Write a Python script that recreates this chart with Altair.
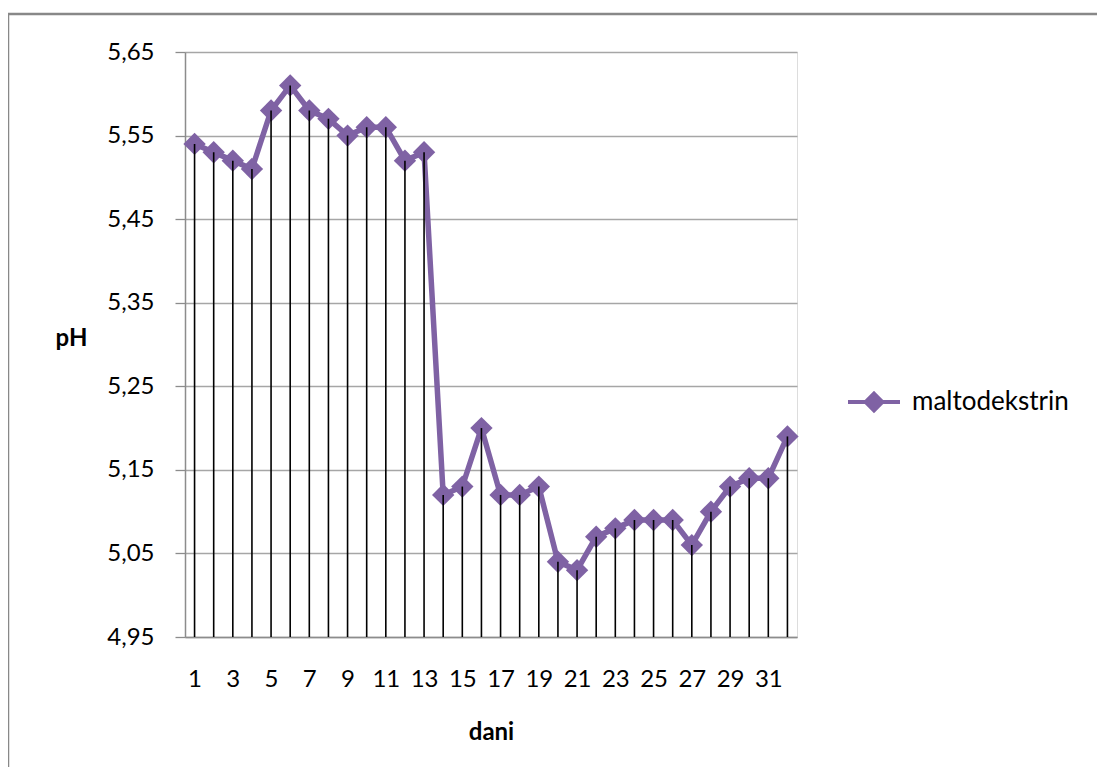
import altair as alt
import pandas as pd

days = list(range(1, 33))
ph = [5.54, 5.53, 5.52, 5.51, 5.58, 5.61, 5.58, 5.57, 5.55, 5.56, 5.56, 5.52, 5.53,
      5.12, 5.13, 5.20, 5.12, 5.12, 5.13, 5.04, 5.03, 5.07, 5.08, 5.09, 5.09, 5.09,
      5.06, 5.10, 5.13, 5.14, 5.14, 5.19]
series = ["maltodekstrin"] * len(days)
x_labels = list(range(1, 32, 2))
y_ticks = [4.95, 5.05, 5.15, 5.25, 5.35, 5.45, 5.55, 5.65]

df = pd.DataFrame({"dan": days, "pH": ph, "serija": series})
PURPLE = "#7f62a4"
FONT = "Lato"
W, H = 612, 585

xs = alt.Scale(domain=[0.5, 32.5], nice=False, zero=False)
ys = alt.Scale(domain=[4.95, 5.65], nice=False, zero=False)

x_axis = alt.Axis(values=x_labels, grid=False, ticks=False, labelPadding=30,
                  labelFont=FONT, labelFontSize=24, labelColor="#000",
                  domainColor="#8c8c8c", domainWidth=1.5,
                  title="dani", titleFont=FONT, titleFontSize=24, titleFontWeight="bold",
                  titleColor="#000", titlePadding=29, labelFlush=False)
y_axis = alt.Axis(values=y_ticks, grid=True, gridColor="#a6a6a6", gridWidth=1.3,
                  tickSize=10, tickColor="#8c8c8c", tickWidth=1.3,
                  domainColor="#8c8c8c", domainWidth=1.5,
                  labelExpr="replace(format(datum.value, '.2f'), '.', ',')",
                  labelFont=FONT, labelFontSize=24, labelColor="#000", labelPadding=21,
                  title="pH", titleFont=FONT, titleFontSize=24, titleFontWeight="bold",
                  titleColor="#000", titleAngle=0, titleX=-114, titleY=286,
                  titleAlign="center", titleBaseline="middle")

color = alt.Color("serija:N",
                  scale=alt.Scale(domain=["maltodekstrin"], range=[PURPLE]),
                  legend=alt.Legend(title=None, orient="none", legendX=661, legendY=322,
                                    symbolType="M-1,0H1M0,-0.32L0.32,0L0,0.32L-0.32,0Z",
                                    symbolSize=2700, symbolStrokeWidth=4,
                                    symbolFillColor=PURPLE, symbolStrokeColor=PURPLE,
                                    labelFont=FONT, labelFontSize=26, labelColor="#000",
                                    labelOffset=10))

base = alt.Chart(df)

line = base.mark_line(strokeWidth=5.5).encode(
    x=alt.X("dan:Q", scale=xs, axis=x_axis),
    y=alt.Y("pH:Q", scale=ys, axis=y_axis),
    color=color,
)
points = base.mark_point(shape="diamond", filled=True, size=500, opacity=1).encode(
    x=alt.X("dan:Q", scale=xs),
    y=alt.Y("pH:Q", scale=ys),
    color=color,
)
drops = base.mark_rule(color="#000", strokeWidth=1.6).encode(
    x=alt.X("dan:Q", scale=xs),
    y=alt.Y("pH:Q", scale=ys),
    y2=alt.datum(4.95),
)
border = alt.Chart(pd.DataFrame({"a": [0]})).mark_rect(
    fill=None, stroke="#888888", strokeWidth=2.5
).encode(
    x=alt.value(-177), x2=alt.value(960), y=alt.value(-38), y2=alt.value(760)
)

chart = alt.layer(border, line, points, drops).properties(
    width=W, height=H,
    autosize=alt.AutoSizeParams(type="none"),
    padding={"left": 177, "top": 44, "right": 300, "bottom": 130},
).configure_view(stroke=None).configure(background="white")

chart.save("out.html", embed_options={"renderer": "svg", "actions": False})
